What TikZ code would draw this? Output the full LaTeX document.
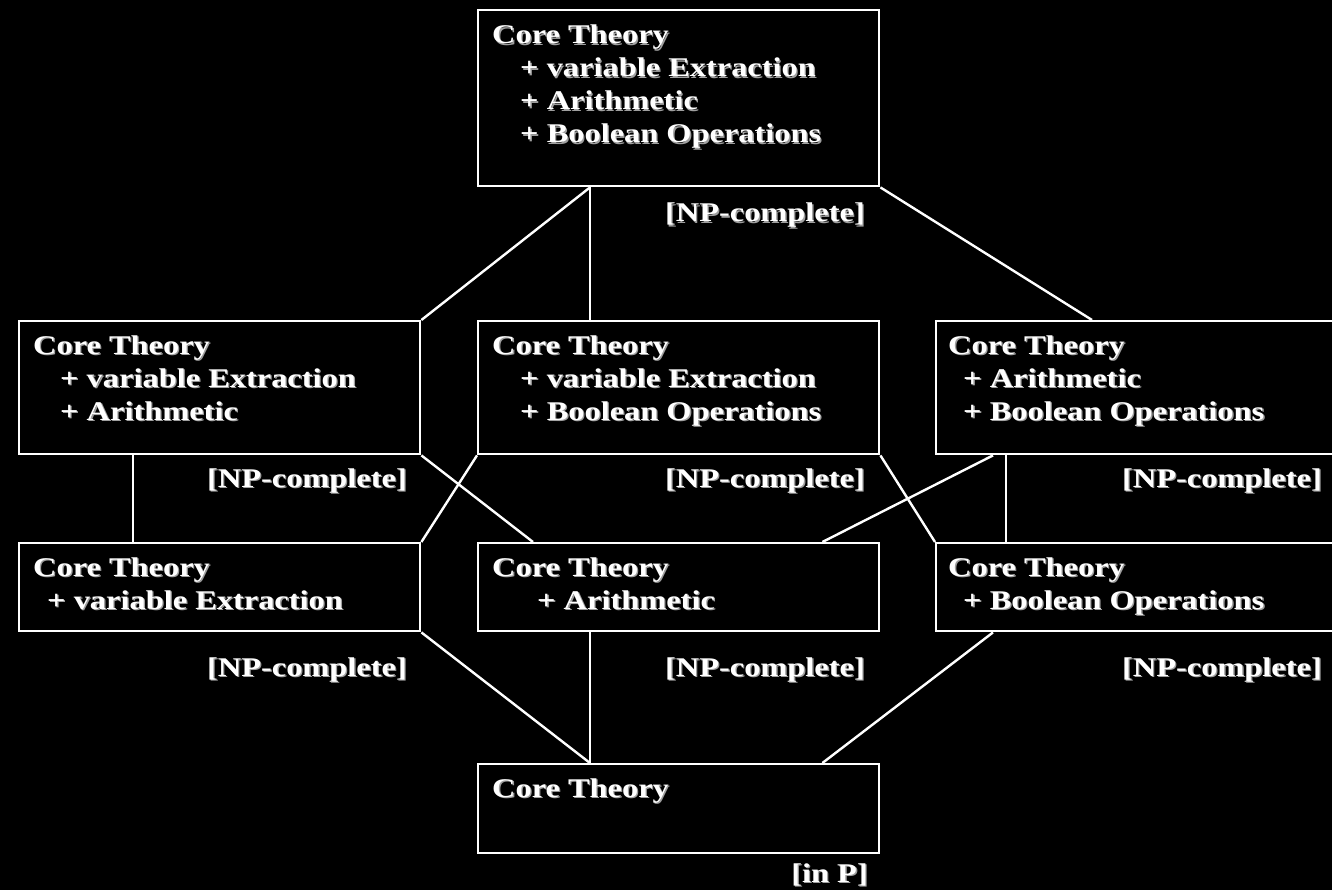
\documentclass[tikz,border=0pt]{standalone}
\usepackage{fontspec}
\setmainfont{Liberation Serif}
\newfontfamily\boxfont[FakeStretch=1.2]{Liberation Serif}

\newcommand{\ind}[1]{\hspace*{#1pt}}
% white text with a soft grey drop shadow
\newcommand{\sh}[1]{\leavevmode\rlap{\kern1.3pt\raisebox{-1.3pt}{\textcolor{gray!75}{#1}}}#1}
\newcommand{\boxlines}[1]{\begin{tabular}[t]{@{}l@{}}#1\end{tabular}}

\begin{document}
\begin{tikzpicture}[x=1pt,y=-1pt,
  theorybox/.style={draw=white, line width=2.4pt, anchor=north west, inner sep=0pt,
    minimum width=401pt},
  boxtext/.style={text=white, anchor=base west, inner sep=0pt,
    font=\boxfont\bfseries\fontsize{27}{33}\selectfont},
  cls/.style={text=white, anchor=base east, inner sep=0pt,
    font=\boxfont\bfseries\fontsize{27}{33}\selectfont},
  link/.style={draw=white, line width=2.4pt}]

\fill[black] (0,0) rectangle (1332,890);
\useasboundingbox (0,0) rectangle (1332,890);

% lattice of theories
\node[theorybox, minimum height=176pt] (top) at (477,9) {};
\node[theorybox, minimum height=133pt] (ml) at (18,320) {};
\node[theorybox, minimum height=133pt] (mc) at (477,320) {};
\node[theorybox, minimum height=133pt] (mr) at (935,320) {};
\node[theorybox, minimum height=88pt] (ll) at (18,542) {};
\node[theorybox, minimum height=88pt] (lc) at (477,542) {};
\node[theorybox, minimum height=88pt] (lr) at (935,542) {};
\node[theorybox, minimum height=89pt] (bot) at (477,763) {};

% box contents
\node[boxtext] (ttop) at ([xshift=15pt, yshift=-35pt]top.north west)
  {\boxlines{\sh{Core Theory}\\ \ind{28}\sh{+ variable Extraction}\\ \ind{28}\sh{+ Arithmetic}\\ \ind{28}\sh{+ Boolean Operations}}};
\node[boxtext] (tml) at ([xshift=15pt, yshift=-34pt]ml.north west)
  {\boxlines{\sh{Core Theory}\\ \ind{27}\sh{+ variable Extraction}\\ \ind{27}\sh{+ Arithmetic}}};
\node[boxtext] (tmc) at ([xshift=15pt, yshift=-34pt]mc.north west)
  {\boxlines{\sh{Core Theory}\\ \ind{28}\sh{+ variable Extraction}\\ \ind{28}\sh{+ Boolean Operations}}};
\node[boxtext] (tmr) at ([xshift=13pt, yshift=-34pt]mr.north west)
  {\boxlines{\sh{Core Theory}\\ \ind{15}\sh{+ Arithmetic}\\ \ind{15}\sh{+ Boolean Operations}}};
\node[boxtext] (tll) at ([xshift=15pt, yshift=-34pt]ll.north west)
  {\boxlines{\sh{Core Theory}\\ \ind{14}\sh{+ variable Extraction}}};
\node[boxtext] (tlc) at ([xshift=15pt, yshift=-34pt]lc.north west)
  {\boxlines{\sh{Core Theory}\\ \ind{45}\sh{+ Arithmetic}}};
\node[boxtext] (tlr) at ([xshift=13pt, yshift=-34pt]lr.north west)
  {\boxlines{\sh{Core Theory}\\ \ind{15}\sh{+ Boolean Operations}}};
\node[boxtext] (tbot) at ([xshift=15pt, yshift=-34pt]bot.north west)
  {\boxlines{\sh{Core Theory}}};

% complexity classes
\node[cls] (ctop) at (865,222) {\sh{[NP-complete]}};
\node[cls] (cml) at (407,487) {\sh{[NP-complete]}};
\node[cls] (cmc) at (865,487) {\sh{[NP-complete]}};
\node[cls] (cmr) at (1322,487) {\sh{[NP-complete]}};
\node[cls] (cll) at (407,676) {\sh{[NP-complete]}};
\node[cls] (clc) at (865,676) {\sh{[NP-complete]}};
\node[cls] (clr) at (1322,676) {\sh{[NP-complete]}};
\node[cls] (cbot) at (868,882) {\sh{[in P]}};

% connectors
\draw[link] ([xshift=113pt]top.south west) -- (ml.north east);
\draw[link] ([xshift=113pt]top.south west) -- ([xshift=113pt]mc.north west);
\draw[link] (top.south east) -- ([xshift=157pt]mr.north west);
\draw[link] ([xshift=115pt]ml.south west) -- ([xshift=115pt]ll.north west);
\draw[link] (ml.south east) -- ([xshift=56pt]lc.north west);
\draw[link] (mc.south west) -- (ll.north east);
\draw[link] (mc.south east) -- (lr.north west);
\draw[link] ([xshift=58pt]mr.south west) -- ([xshift=-58pt]lc.north east);
\draw[link] ([xshift=71pt]mr.south west) -- ([xshift=71pt]lr.north west);
\draw[link] (ll.south east) -- ([xshift=113pt]bot.north west);
\draw[link] ([xshift=113pt]lc.south west) -- ([xshift=113pt]bot.north west);
\draw[link] ([xshift=58pt]lr.south west) -- ([xshift=-58pt]bot.north east);
\end{tikzpicture}
\end{document}
